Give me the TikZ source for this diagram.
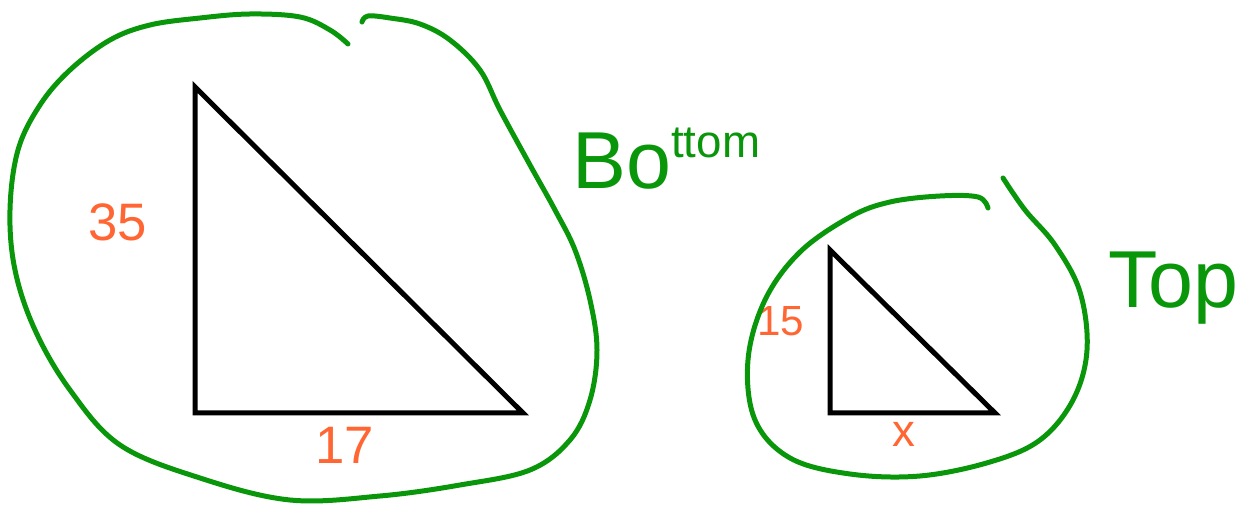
\documentclass[tikz,border=0pt]{standalone}
\usepackage{fontspec}
\setsansfont{Liberation Sans}
\usepackage{tikz}
\definecolor{loopgreen}{HTML}{0A960A}
\definecolor{sideorange}{HTML}{FF6633}

\begin{document}
\begin{tikzpicture}[x=0.02cm,y=-0.02cm,
    tri/.style={draw=black,line width=1mm,line join=miter},
    loopline/.style={draw=loopgreen,line width=1mm,line cap=round},
    sidelabel/.style={text=sideorange,font=\sffamily\fontsize{30}{32}\selectfont,inner sep=0pt},
    namelabel/.style={text=loopgreen,font=\sffamily\fontsize{46}{50}\selectfont,inner sep=0pt}]
    \useasboundingbox (0,0) rectangle (1245,509);

    % bottom triangle
    \coordinate (btop) at (195,87);
    \coordinate (bcorner) at (195,413);
    \coordinate (bright) at (523,413);
    \draw[tri] (btop) -- (bcorner) -- (bright) -- cycle;

    % top triangle
    \coordinate (ttop) at (830,250);
    \coordinate (tcorner) at (830,413);
    \coordinate (tright) at (995,413);
    \draw[tri] (ttop) -- (tcorner) -- (tright) -- cycle;

    \node[sidelabel] (bheight) at (118,222) {35};
    \node[sidelabel] (bbase) at (345,445) {17};
    \node[sidelabel,font=\sffamily\fontsize{24}{26}\selectfont] (theight) at (781,321) {15};
    \node[sidelabel,font=\sffamily\fontsize{26}{28}\selectfont] (tbase) at (904,434) {x};

    % green loops
    \draw[loopline] plot[smooth,tension=0.6] coordinates {
        (348,44) (330,30) (300,17) (250,14) (200,18) (150,25) (110,40) (70,70)
        (40,105) (18,150) (10,210) (15,270) (35,330) (70,390) (120,445)
        (200,478) (290,500) (380,496) (460,485) (530,470) (570,440) (590,400)
        (597,350) (590,300) (575,250) (555,210) (530,165) (500,110) (480,70)
        (450,40) (420,24) (390,18) (368,16) (362,22)};
    \draw[loopline] plot[smooth,tension=0.6] coordinates {
        (988,208) (978,197) (940,196) (890,202) (850,217) (800,252) (765,300)
        (748,360) (755,420) (790,458) (850,474) (920,476) (990,462) (1040,440)
        (1073,400) (1087,350) (1080,292) (1055,245) (1025,210) (1003,178)};

    \node[namelabel,anchor=south west] (bottomname) at (572,190)
        {Bo\raisebox{18pt}{\fontsize{26}{28}\selectfont ttom}};
    \node[namelabel,anchor=south west] (topname) at (1108,325) {Top};
\end{tikzpicture}
\end{document}
